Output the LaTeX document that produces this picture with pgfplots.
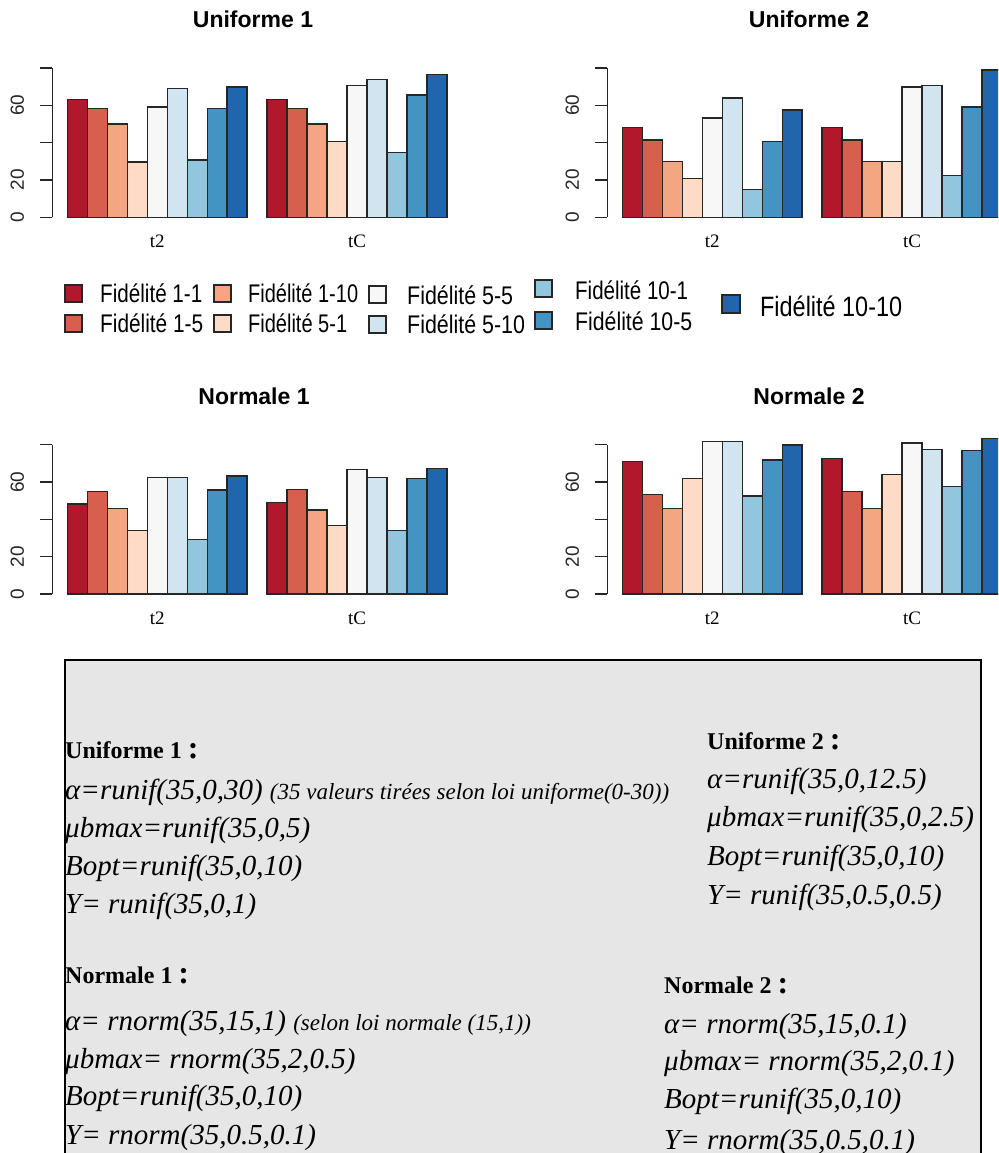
\documentclass[border=0pt]{standalone}
\usepackage{fontspec}
\setmainfont{Liberation Serif}
\newfontfamily\arial{Liberation Sans}
\usepackage{pgfplots}
\pgfplotsset{compat=1.18}

\definecolor{c1}{HTML}{B2182B}
\definecolor{c2}{HTML}{D6604D}
\definecolor{c3}{HTML}{F4A582}
\definecolor{c4}{HTML}{FDDBC7}
\definecolor{c5}{HTML}{F7F7F7}
\definecolor{c6}{HTML}{D1E5F0}
\definecolor{c7}{HTML}{92C5DE}
\definecolor{c8}{HTML}{4393C3}
\definecolor{c9}{HTML}{2166AC}
\definecolor{boxgray}{HTML}{E6E6E6}
\definecolor{edge}{HTML}{262626}

\pgfplotsset{
  rb/.style={ybar, bar width=1, bar shift=0pt, draw=edge, line width=1.5pt, fill=#1, mark=none},
  rpanel/.style={
    anchor=south west,
    scale only axis, width=409.8pt, height=149.3pt,
    xmin=0.24, xmax=20.76, ymin=0, ymax=80,
    axis y line=left, axis x line=bottom,
    axis line style={-},
    x axis line style={draw=none},
    y axis line style={-, line width=1.5pt, draw=edge},
    ytick={0,20,40,60,80}, yticklabels={0,20,,60,},
    ytick style={line width=1.5pt, draw=edge},
    tick align=outside, major tick length=12.6pt,
    /pgf/number format/assume math mode=true,
    yticklabel style={rotate=90, anchor=south, inner sep=0pt, font=\fontsize{19}{19}\arial, text=edge},
    yticklabel shift=15.5pt,
    xtick={5.5,15.5}, xticklabels={t2,tC},
    xtick style={draw=none},
    xticklabel style={anchor=north, inner sep=0pt, font=\fontsize{19}{19}\selectfont},
    xticklabel shift=5pt,
    clip=false,
  }
}

\newcommand\fH{\fontsize{24}{24}\selectfont\bfseries}
\newcommand\fC{\fontsize{32}{32}\selectfont\bfseries}
\newcommand\fF{\fontsize{29}{29}\selectfont\itshape}
\newcommand\fS{\fontsize{23}{23}\selectfont\itshape}
\newcommand\fL{\fontsize{25.5}{25.5}\arial}

\begin{document}
\begin{tikzpicture}
\useasboundingbox (0pt,0pt) rectangle (998pt,1153pt);
\clip (0pt,0pt) rectangle (998pt,1153pt);

% ---- Uniforme 1 ----
\begin{axis}[rpanel, at={(52.3pt,935.7pt)}]
\addplot[rb=c1] coordinates {(1.5,63.2) (11.5,63.2)};
\addplot[rb=c2] coordinates {(2.5,58.2) (12.5,58.2)};
\addplot[rb=c3] coordinates {(3.5,50.0) (13.5,50.0)};
\addplot[rb=c4] coordinates {(4.5,29.6) (14.5,40.7)};
\addplot[rb=c5] coordinates {(5.5,59.1) (15.5,70.7)};
\addplot[rb=c6] coordinates {(6.5,69.1) (16.5,73.9)};
\addplot[rb=c7] coordinates {(7.5,30.7) (17.5,34.8)};
\addplot[rb=c8] coordinates {(8.5,58.2) (18.5,65.5)};
\addplot[rb=c9] coordinates {(9.5,69.8) (19.5,76.4)};
\end{axis}

% ---- Uniforme 2 ----
\begin{axis}[rpanel, at={(607.3pt,935.7pt)}]
\addplot[rb=c1] coordinates {(1.5,48.2) (11.5,48.2)};
\addplot[rb=c2] coordinates {(2.5,41.4) (12.5,41.4)};
\addplot[rb=c3] coordinates {(3.5,29.8) (13.5,29.8)};
\addplot[rb=c4] coordinates {(4.5,20.7) (14.5,29.8)};
\addplot[rb=c5] coordinates {(5.5,53.2) (15.5,69.8)};
\addplot[rb=c6] coordinates {(6.5,63.9) (16.5,70.7)};
\addplot[rb=c7] coordinates {(7.5,14.8) (17.5,22.5)};
\addplot[rb=c8] coordinates {(8.5,40.5) (18.5,59.1)};
\addplot[rb=c9] coordinates {(9.5,57.5) (19.5,78.9)};
\end{axis}

% ---- Normale 1 ----
\begin{axis}[rpanel, at={(52.3pt,559pt)}]
\addplot[rb=c1] coordinates {(1.5,48.2) (11.5,49.1)};
\addplot[rb=c2] coordinates {(2.5,54.8) (12.5,56.1)};
\addplot[rb=c3] coordinates {(3.5,45.9) (13.5,45.0)};
\addplot[rb=c4] coordinates {(4.5,34.1) (14.5,36.8)};
\addplot[rb=c5] coordinates {(5.5,62.5) (15.5,66.6)};
\addplot[rb=c6] coordinates {(6.5,62.5) (16.5,62.5)};
\addplot[rb=c7] coordinates {(7.5,29.1) (17.5,34.1)};
\addplot[rb=c8] coordinates {(8.5,55.7) (18.5,61.8)};
\addplot[rb=c9] coordinates {(9.5,63.2) (19.5,67.3)};
\end{axis}

% ---- Normale 2 ----
\begin{axis}[rpanel, at={(607.3pt,559pt)}]
\addplot[rb=c1] coordinates {(1.5,71.1) (11.5,72.5)};
\addplot[rb=c2] coordinates {(2.5,53.4) (12.5,55.0)};
\addplot[rb=c3] coordinates {(3.5,45.9) (13.5,45.9)};
\addplot[rb=c4] coordinates {(4.5,61.8) (14.5,64.1)};
\addplot[rb=c5] coordinates {(5.5,81.8) (15.5,80.9)};
\addplot[rb=c6] coordinates {(6.5,81.8) (16.5,77.5)};
\addplot[rb=c7] coordinates {(7.5,52.5) (17.5,57.5)};
\addplot[rb=c8] coordinates {(8.5,71.8) (18.5,76.8)};
\addplot[rb=c9] coordinates {(9.5,79.8) (19.5,83.2)};
\end{axis}

\begin{scope}[x=1pt,y=1pt]
% ---- titles ----
\node[anchor=base, inner sep=0pt, font=\fontsize{23}{23}\arial\bfseries] at (253,1125) {Uniforme 1};
\node[anchor=base, inner sep=0pt, font=\fontsize{23}{23}\arial\bfseries] at (809,1125) {Uniforme 2};
\node[anchor=base, inner sep=0pt, font=\fontsize{23}{23}\arial\bfseries] at (254,748) {Normale 1};
\node[anchor=base, inner sep=0pt, font=\fontsize{23}{23}\arial\bfseries] at (809,748) {Normale 2};

% ---- legend ----
\tikzset{lb/.style={draw=edge, line width=1.2pt}}
\draw[lb, fill=c1] (65,868) rectangle (82,851);
\draw[lb, fill=c2] (65,838) rectangle (82,821);
\draw[lb, fill=c3] (214,868) rectangle (231,851);
\draw[lb, fill=c4] (214,838) rectangle (231,821);
\draw[lb, fill=c5] (369,867) rectangle (386,850);
\draw[lb, fill=c6] (369,837) rectangle (386,820);
\draw[lb, fill=c7] (535,873) rectangle (552,856);
\draw[lb, fill=c8] (535,841) rectangle (552,824);
\draw[lb, fill=c9] (722,858) rectangle (740,840);
\node[anchor=base west, inner sep=0pt, xscale=0.81, font=\fL] at (100,850) {Fidélité 1-1};
\node[anchor=base west, inner sep=0pt, xscale=0.817, font=\fL] at (100,820.3) {Fidélité 1-5};
\node[anchor=base west, inner sep=0pt, xscale=0.784, font=\fL] at (248,850) {Fidélité 1-10};
\node[anchor=base west, inner sep=0pt, xscale=0.785, font=\fL] at (248,820.3) {Fidélité 5-1};
\node[anchor=base west, inner sep=0pt, xscale=0.84, font=\fL] at (407,848) {Fidélité 5-5};
\node[anchor=base west, inner sep=0pt, xscale=0.84, font=\fL] at (407,819) {Fidélité 5-10};
\node[anchor=base west, inner sep=0pt, xscale=0.805, font=\fL] at (575,853) {Fidélité 10-1};
\node[anchor=base west, inner sep=0pt, xscale=0.834, font=\fL] at (575,822) {Fidélité 10-5};
\node[anchor=base west, inner sep=0pt, xscale=0.837, font=\fontsize{28}{28}\arial] at (760,836.3) {Fidélité 10-10};

% ---- text box ----
\draw[fill=boxgray, draw=black, line width=1.3pt] (65,493) rectangle (981,-20);
\tikzset{tl/.style={anchor=base west, inner sep=0pt}}
\node[tl] at (65,394) {\fH Uniforme 1 {\fC:}};
\node[tl] at (65,353) {\fF α=runif(35,0,30) {\fS (35 valeurs tirées selon loi uniforme(0-30))}};
\node[tl] at (65,315) {\fF μbmax=runif(35,0,5)};
\node[tl] at (65,277) {\fF Bopt=runif(35,0,10)};
\node[tl] at (65,239) {\fF Y= runif(35,0,1)};
\node[tl] at (65,169) {\fH Normale 1 {\fC:}};
\node[tl] at (65,122) {\fF α= rnorm(35,15,1) {\fS (selon loi normale (15,1))}};
\node[tl] at (65,84) {\fF μbmax= rnorm(35,2,0.5)};
\node[tl] at (65,47) {\fF Bopt=runif(35,0,10)};
\node[tl] at (65,9) {\fF Y= rnorm(35,0.5,0.1)};

\node[tl] at (707,403) {\fH Uniforme 2 {\fC:}};
\node[tl] at (707,364) {\fF α=runif(35,0,12.5)};
\node[tl] at (707,326) {\fF μbmax=runif(35,0,2.5)};
\node[tl] at (707,287) {\fF Bopt=runif(35,0,10)};
\node[tl] at (707,248) {\fF Y= runif(35,0.5,0.5)};
\node[tl] at (664,159) {\fH Normale 2 {\fC:}};
\node[tl] at (664,119) {\fF α= rnorm(35,15,0.1)};
\node[tl] at (664,82) {\fF μbmax= rnorm(35,2,0.1)};
\node[tl] at (664,44) {\fF Bopt=runif(35,0,10)};
\node[tl] at (664,4) {\fF Y= rnorm(35,0.5,0.1)};
\end{scope}
\end{tikzpicture}
\end{document}
